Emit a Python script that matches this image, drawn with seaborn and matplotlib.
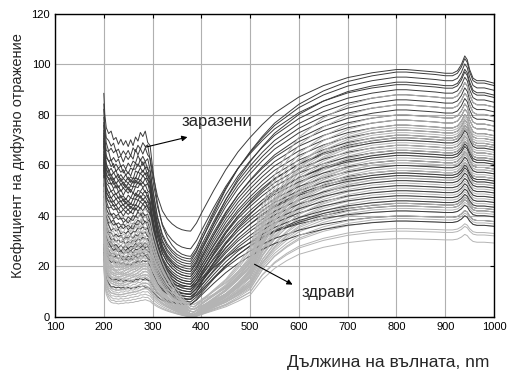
import numpy as np
import pandas as pd
import matplotlib
matplotlib.use('Agg')
import matplotlib.pyplot as plt
import seaborn as sns

# ---- shape of the spectra ----
# UV plateau 200-295 nm, relative to the plateau level of each curve
uv_wl = [200, 202, 205, 210, 215, 220, 225, 230, 235, 240, 245, 250, 255, 260, 265, 270, 275, 280, 285, 290, 295]
uv_spike = [13, 7, 3, 1, 0, 0, 0, 0, 0, 0, 0, 0, 0, 0, 0, 0, 0, 0, 0, 0, 0]
uv_shape_inf = [1.05, 1.02, 1.0, 1.0, 1.0, 0.99, 0.98, 0.97, 0.96, 0.95, 0.95, 0.95, 0.95, 0.96, 0.98, 0.99, 1.0, 1.0, 1.0, 0.98, 0.93]
uv_shape_heal = [1.1, 1.05, 1.0, 0.98, 0.95, 0.92, 0.89, 0.88, 0.89, 0.9, 0.92, 0.94, 0.96, 0.98, 1.0, 1.03, 1.07, 1.11, 1.12, 1.1, 1.02]
uv_ripple = [0, 0, 0, 0.8, -0.5, 1.0, -0.7, 0.4, -0.9, 0.6, -0.3, 0.9, -0.8, 0.5, -0.2, 0.9, -0.6, 0.3, -0.8, 0.7, -0.2]

# fall from plateau into the minimum (1 = value at 295 nm, 0 = minimum)
drop_wl_inf = [300, 310, 320, 330, 340, 350, 360, 370]
drop_frac_inf = [0.8, 0.48, 0.28, 0.17, 0.1, 0.05, 0.02, 0.005]
drop_wl_heal = [300, 310, 320, 330, 340, 350, 360, 370, 378]
drop_frac_heal = [0.85, 0.65, 0.5, 0.38, 0.28, 0.19, 0.11, 0.05, 0.01]

# rise from the minimum up to the NIR plateau (0 = minimum, 1 = plateau)
rise_wl_inf = [378, 390, 400, 425, 450, 475, 500, 525, 550, 600, 650, 700, 750, 800]
rise_frac_inf = [0.0, 0.05, 0.11, 0.25, 0.38, 0.49, 0.58, 0.66, 0.73, 0.83, 0.9, 0.95, 0.98, 1.0]
rise_wl_heal = [385, 400, 425, 450, 475, 500, 510, 525, 550, 575, 600, 650, 700, 750, 800]
rise_frac_heal = [0.0, 0.03, 0.08, 0.13, 0.2, 0.28, 0.36, 0.48, 0.62, 0.72, 0.8, 0.89, 0.95, 0.985, 1.0]

# NIR plateau with the water peak near 940 nm, relative to the plateau level
nir_wl = [820, 850, 880, 900, 915, 925, 933, 940, 945, 950, 957, 965, 980, 1000]
nir_shape = [1.0, 0.995, 0.99, 0.985, 0.985, 0.995, 1.02, 1.055, 1.04, 1.0, 0.965, 0.955, 0.955, 0.945]

# ---- per-curve levels ----
inf_uv = [72, 68, 66, 63, 61, 60, 58, 57, 56, 55, 54, 53, 52, 50, 49, 48, 47, 46, 45, 44, 43, 41, 40, 38, 37, 35, 33, 31, 29, 28, 27, 25, 24, 22, 15, 12]
inf_min = [24, 27, 34, 23, 22, 21, 20, 19, 18, 18, 17, 16, 16, 15, 14, 14, 13, 13, 12, 12, 11, 11, 10, 10, 9, 9, 8, 8, 7, 7, 6, 12, 9, 7, 5, 5]
inf_nir = [95, 92, 98, 90, 97, 88, 86, 84, 93, 80, 78, 82, 76, 74, 72, 70, 68, 66, 64, 62, 60, 58, 56, 71, 54, 52, 50, 48, 65, 46, 44, 42, 57, 40, 45, 38]

heal_uv = [40, 38, 36, 35, 34, 33, 32, 31, 30, 30, 29, 28, 28, 27, 26, 26, 25, 25, 24, 24, 23, 23, 22, 22, 21,
           21, 20, 20, 19, 19, 18, 18, 17, 17, 16, 16, 15, 15, 14, 14, 13, 12, 12, 11, 10, 10, 9, 8, 7, 6]
heal_min = [5, 4, 4, 3, 5, 3, 2, 4, 3, 2, 1, 3, 2, 4, 1, 2, 3, 1, 2, 0.5, 3, 1, 2, 1, 0.5,
            2, 1, 3, 1, 0.5, 2, 1, 0.5, 1, 2, 0.5, 1, 0, 1, 0.5, 0, 1, 0.5, 0, 1, 0, 0.5, 0, 0, 0]
heal_nir = [70, 84, 62, 78, 55, 75, 66, 88, 48, 71, 60, 69, 52, 80, 64, 58, 73, 44, 67, 61, 50, 76, 57, 63, 42,
            68, 54, 72, 46, 59, 65, 40, 56, 74, 53, 62, 38, 66, 49, 58, 35, 61, 47, 55, 43, 51, 34, 45, 39, 31]

INF_COLOR = '#3c3c3c'
HEAL_COLOR = '#b4b4b4'


def build(uv, vmin, nir, i, healthy):
    shape = uv_shape_heal if healthy else uv_shape_inf
    rip = np.roll(uv_ripple[3:], i)
    uvv = [uv * s + sp for s, sp in zip(shape, uv_spike)]
    uvv = uvv[:3] + [v + r * uv / 40 for v, r in zip(uvv[3:], rip)]
    end = uvv[-1]
    if healthy:
        dwl, dfr, rwl, rfr = drop_wl_heal, drop_frac_heal, rise_wl_heal, rise_frac_heal
    else:
        dwl, dfr, rwl, rfr = drop_wl_inf, drop_frac_inf, rise_wl_inf, rise_frac_inf
    dv = [vmin + (end - vmin) * f for f in dfr]
    rv = [vmin + (nir - vmin) * f for f in rfr]
    nv = [nir * s for s in nir_shape]
    wl = uv_wl + dwl + rwl + nir_wl
    val = uvv + dv + rv + nv
    return wl, val


rows = []
for i, (u, m, n) in enumerate(zip(heal_uv, heal_min, heal_nir)):
    wl, val = build(u, m, n, i, True)
    layer = 0 if i % 2 == 0 else 2
    rows += [(w, v, 'h%d' % i, layer) for w, v in zip(wl, val)]
for i, (u, m, n) in enumerate(zip(inf_uv, inf_min, inf_nir)):
    wl, val = build(u, m, n, i + 7, False)
    rows += [(w, v, 'i%d' % i, 1) for w, v in zip(wl, val)]
df = pd.DataFrame(rows, columns=['wl', 'refl', 'curve', 'layer'])

sns.set_style('white')
plt.rcParams['font.family'] = ['Liberation Sans', 'DejaVu Sans']

fig = plt.figure(figsize=(5.08, 3.71), dpi=100)
ax = fig.add_axes([0.1083, 0.1456, 0.8642, 0.8167])

for layer, color in [(0, HEAL_COLOR), (1, INF_COLOR), (2, HEAL_COLOR)]:
    sns.lineplot(data=df[df['layer'] == layer], x='wl', y='refl', units='curve', estimator=None,
                 color=color, lw=0.7, sort=False, ax=ax)

ax.set_xlim(100, 1000)
ax.set_ylim(0, 120)
ax.set_xticks(range(100, 1001, 100))
ax.set_yticks(range(0, 121, 20))
ax.grid(True, color='#b0b0b0', lw=0.8)
ax.set_axisbelow(True)
ax.tick_params(direction='in', length=3, top=True, right=True, labelsize=8, colors='black')
for s in ax.spines.values():
    s.set_color('black')
    s.set_linewidth(1.0)
ax.set_xlabel('')
ax.set_ylabel('')

ax.annotate('', xy=(377, 71.5), xytext=(280, 67),
            arrowprops=dict(arrowstyle='-|>', color='black', lw=0.8, mutation_scale=8))
ax.text(360, 77.4, 'заразени', fontsize=12, va='center', ha='left')
ax.annotate('', xy=(592, 12.3), xytext=(504, 21.4),
            arrowprops=dict(arrowstyle='-|>', color='black', lw=0.8, mutation_scale=8))
ax.text(606, 9.5, 'здрави', fontsize=12, va='center', ha='left')

fig.text(388 / 508, 1 - 362 / 371, 'Дължина на вълната, nm', fontsize=12.5, ha='center', va='center')
fig.text(18 / 508, 1 - 156 / 371, 'Коефициент на дифузно отражение', fontsize=10.5,
         ha='center', va='center', rotation=90)

fig.savefig('out.png', dpi=100)
